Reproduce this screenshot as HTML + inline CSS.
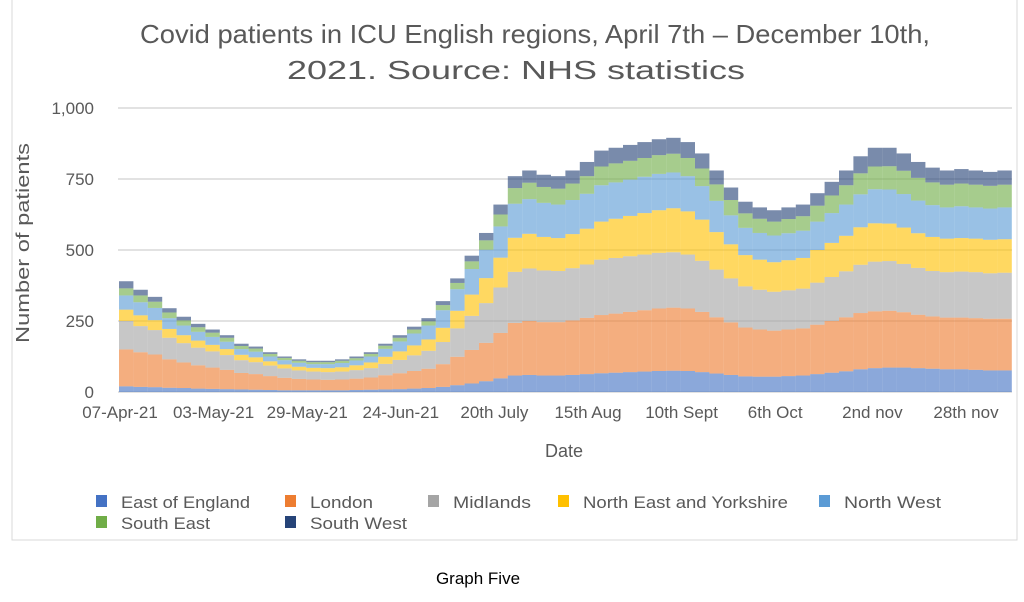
<!DOCTYPE html>
<html><head><meta charset="utf-8"><style>
body{margin:0;background:#fff;}
svg{display:block;font-family:"Liberation Sans",sans-serif;}
</style></head><body>
<svg id="chart" width="1024" height="602">
<rect x="12" y="-2" width="1005" height="542" fill="#fff" stroke="#d9d9d9"/>
<text x="140" y="43" textLength="790" lengthAdjust="spacingAndGlyphs" font-size="26" fill="#595959">Covid patients in ICU English regions, April 7th – December 10th,</text>
<text x="287" y="79" textLength="458" lengthAdjust="spacingAndGlyphs" font-size="26" fill="#595959">2021. Source: NHS statistics</text>
<text transform="translate(29,243) rotate(-90)" text-anchor="middle" font-size="18" textLength="200" lengthAdjust="spacingAndGlyphs" fill="#595959">Number of patients</text>
<text x="564" y="457" text-anchor="middle" font-size="18" fill="#595959">Date</text>
<g id="grid"></g><g id="bars"></g><g id="yticks"></g><g id="xticks"></g><g id="legend"></g>
<text x="478" y="584" text-anchor="middle" font-size="17" fill="#000">Graph Five</text>
</svg>
<script>
const days = [];
for (let i = 0; i < 62; i++) days.push(i * 4);
const seriesNames = ["East of England","London","Midlands","North East and Yorkshire","North West","South East","South West"];
const colors = ["#4472c4","#ed7d31","#a5a5a5","#ffc000","#5b9bd5","#70ad47","#264478"];
const eastOfEngland = [20,18,17,15,14,12,11,10,9,8,7,6,6,6,6,6,7,8,9,10,12,14,18,24,30,38,48,58,60,58,58,60,63,66,68,70,72,74,75,74,70,65,60,55,54,54,56,58,63,68,73,80,84,86,86,84,82,80,80,78,76,76];
const london = [130,122,115,100,90,82,75,68,58,55,49,44,40,38,37,38,40,43,50,56,62,68,80,100,118,135,160,185,190,188,188,192,198,205,208,212,216,220,222,220,212,198,185,172,166,162,164,166,174,182,190,198,200,200,195,188,184,182,182,182,182,182];
const midlands = [100,92,86,76,68,62,57,52,45,42,37,33,30,28,27,28,30,33,40,47,55,63,78,100,120,140,160,180,185,182,180,184,188,195,196,196,196,196,195,190,180,168,155,145,140,137,138,140,148,155,162,170,175,175,170,165,160,160,162,162,160,162];
const northEastYorks = [40,38,35,31,28,25,23,21,19,17,15,14,13,13,14,15,17,20,25,30,35,40,50,62,75,88,105,120,122,118,116,120,126,134,138,142,146,150,155,152,145,132,120,110,106,104,106,108,115,120,125,132,135,132,128,122,120,118,118,118,118,118];
const northWest = [50,46,43,38,34,31,28,26,20,20,17,15,14,13,14,15,17,21,28,35,42,49,62,76,90,100,110,120,122,120,118,120,123,128,128,128,128,128,126,124,118,110,102,96,94,94,95,96,100,105,110,116,120,120,118,115,112,110,112,110,110,112];
const southEast = [25,24,22,20,18,16,15,14,11,11,9,8,7,7,7,8,8,9,11,13,14,15,18,22,27,33,42,55,58,56,56,58,62,66,67,66,66,66,66,64,62,58,54,51,50,49,50,51,56,62,68,74,80,82,82,80,80,80,80,80,80,80];
const southWest = [25,20,17,15,13,12,11,9,8,7,6,5,5,5,5,5,6,6,7,9,10,11,14,16,20,26,35,42,43,43,44,46,50,56,55,56,56,56,56,56,53,49,44,41,40,40,41,41,44,48,52,60,66,65,61,56,52,50,51,50,49,50];
const yTicks = [0,250,500,750,1000];
const yTickLabels = ["0","250","500","750","1,000"];
const xTickDays = [0,26,52,78,104,130,156,182,209,235];
const xTickLabels = ["07-Apr-21","03-May-21","29-May-21","24-Jun-21","20th July","15th Aug","10th Sept","6th Oct","2nd nov","28th nov"];

const NS = "http://www.w3.org/2000/svg";
const x = d => 119 + d * 3.6;
const y = v => 392 - v * 0.284;
function mk(tag, attrs, parent) {
  const e = document.createElementNS(NS, tag);
  for (const k in attrs) e.setAttribute(k, attrs[k]);
  parent.appendChild(e);
  return e;
}
const grid = document.getElementById("grid"), yt = document.getElementById("yticks");
yTicks.forEach((v, i) => {
  const l = mk("line", {x1:118, x2:1012, y1:y(v), y2:y(v), stroke:"#d9d9d9", "stroke-width":1.5}, grid);
  
  
  const t = mk("text", {x:94, y:y(v)+6, "text-anchor":"end", "font-size":17, fill:"#595959"}, yt);
  t.textContent = yTickLabels[i];
  
  
});
const series = [eastOfEngland, london, midlands, northEastYorks, northWest, southEast, southWest];
const bars = document.getElementById("bars");
days.forEach((d, i) => {
  let acc = 0;
  series.forEach((s, k) => {
    const v = s[i];
    const r = mk("rect", {x:x(d), y:y(acc+v), width:14.4, height:v*0.284, fill:colors[k], "fill-opacity":0.62}, bars);
    
    
    acc += v;
  });
});
const xt = document.getElementById("xticks");
xTickDays.forEach((d, i) => {
  const t = mk("text", {x:x(d)+1, y:418, "text-anchor":"middle", "font-size":17, fill:"#595959"}, xt);
  t.textContent = xTickLabels[i];
  
  
});
const lg = document.getElementById("legend");
const lpos = [[96,508,129],[285,508,63],[428,508,78],[558,508,205],[819,508,97],[96,529,89],[285,529,97]];
seriesNames.forEach((n, k) => {
  const [lx, ly, w] = lpos[k];
  const g = mk("g", {}, lg);
  
  
  mk("rect", {x:lx, y:ly-13, width:11, height:12, fill:colors[k]}, g);
  const t = mk("text", {x:lx+25, y:ly, "font-size":17, fill:"#595959", textLength:w, lengthAdjust:"spacingAndGlyphs"}, g);
  t.textContent = n;
});
</script>
</body></html>
